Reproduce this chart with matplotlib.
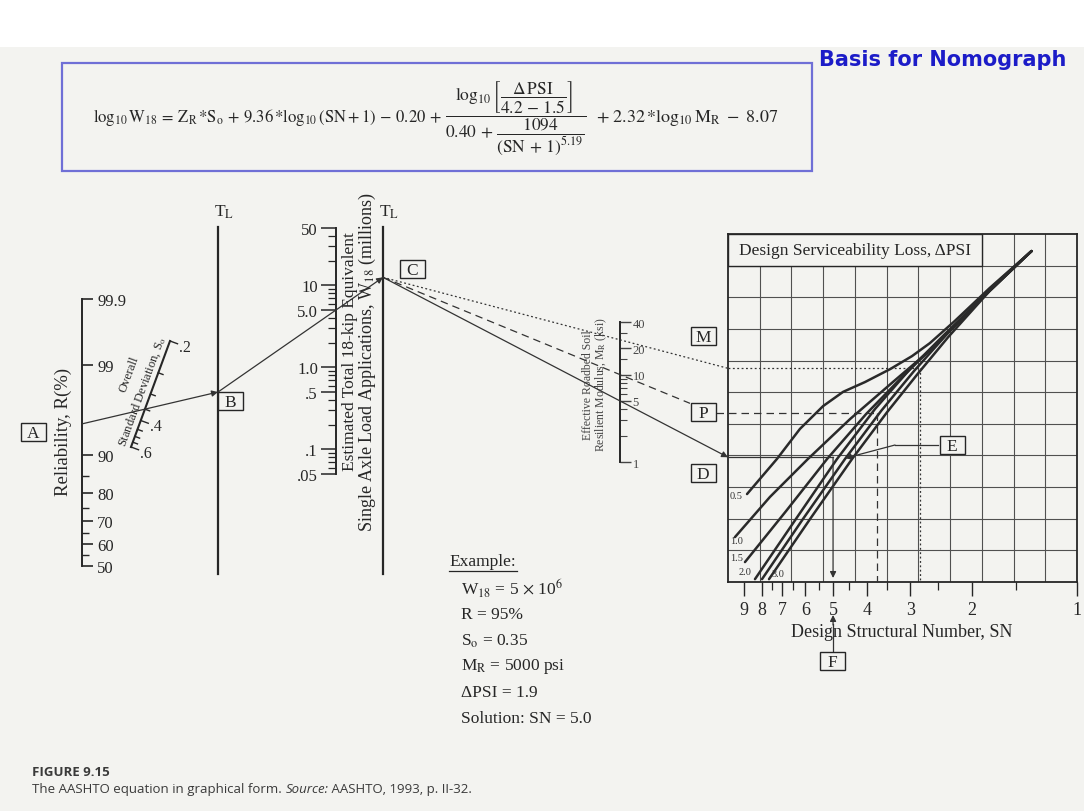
import numpy as np
import matplotlib.pyplot as plt
from matplotlib.patches import Rectangle
from matplotlib.ticker import NullFormatter
from statistics import NormalDist

plt.rcParams['font.family'] = ['Liberation Serif', 'DejaVu Serif']
plt.rcParams['mathtext.fontset'] = 'stix'

# scale values
rel_major = [50, 60, 70, 80, 90, 99, 99.9]
rel_minor = [55, 65, 75, 85]
so_major = [0.2, 0.4, 0.6]
so_minor = [0.25, 0.3, 0.35, 0.45, 0.5, 0.55]
w18_major = [0.05, 0.1, 0.5, 1.0, 5.0, 10, 50]
w18_labels = ['.05', '.1', '.5', '1.0', '5.0', '10', '50']
w18_minor = [0.06, 0.07, 0.08, 0.09, 0.2, 0.3, 0.4, 0.6, 0.7, 0.8, 0.9,
             2, 3, 4, 6, 7, 8, 9, 20, 30, 40]
mr_major = [1, 5, 10, 20, 40]
mr_minor = [2, 3, 4, 6, 7, 8, 9, 15, 30]
sn_major = [9, 8, 7, 6, 5, 4, 3, 2, 1]
sn_minor = [7.5, 6.5, 5.5, 4.5, 3.5, 2.5, 1.5]

# serviceability loss curves: SN against turning-line ordinate (grid units)
psi_levels = ['0.5', '1.0', '1.5', '2.0', '2.5', '3.0']
sn_05 = [8.82, 7.24, 6.22, 5.34, 4.68, 4.05, 3.43, 2.97, 2.64, 2.24, 1.78, 1.35]
y_05 = [2.78, 3.89, 4.84, 5.56, 6.01, 6.32, 6.73, 7.14, 7.55, 8.25, 9.29, 10.46]
sn_10 = [9.55, 7.58, 5.90, 4.47, 3.37, 2.55, 1.78, 1.35]
y_10 = [1.42, 2.69, 3.89, 5.15, 6.32, 7.46, 9.26, 10.46]
sn_15 = [8.94, 6.82, 5.20, 4.02, 3.15, 2.45, 1.78, 1.35]
y_15 = [0.63, 2.24, 3.89, 5.31, 6.51, 7.68, 9.23, 10.46]
sn_20 = [8.37, 6.39, 4.87, 3.79, 3.01, 2.39, 1.78, 1.35]
y_20 = [0.09, 1.99, 3.89, 5.47, 6.73, 7.84, 9.20, 10.46]
sn_25 = [7.99, 6.10, 4.62, 3.64, 2.93, 2.37, 1.78, 1.35]
y_25 = [0.09, 1.99, 3.89, 5.41, 6.67, 7.81, 9.20, 10.46]
sn_30 = [7.63, 5.82, 4.41, 3.50, 2.86, 2.34, 1.78, 1.35]
y_30 = [0.09, 1.99, 3.89, 5.37, 6.58, 7.74, 9.20, 10.46]

# worked example
ex_w18 = 5.0     # millions
ex_r = 95
ex_so = 0.35
ex_mr = 5        # ksi
ex_psi = 1.9
ex_sn = 5.0
# trial moduli drawn dashed and dotted
alt_mr = [10, 25]
alt_sn = [3.74, 2.82]

W, H = 1084, 812
PAGE = '#f3f3f0'
INK = '#262626'


def rect(x0, y0, x1, y1):
    return [x0 / W, 1 - y1 / H, (x1 - x0) / W, (y1 - y0) / H]


fig = plt.figure(figsize=(W / 100, H / 100), dpi=100, facecolor='white')
fig.add_artist(Rectangle((0, 0), 1, 1 - 48 / H, transform=fig.transFigure,
                         facecolor=PAGE, edgecolor='none', zorder=-10))

over = fig.add_axes([0, 0, 1, 1], zorder=5)
over.set_xlim(0, W)
over.set_ylim(H, 0)
over.axis('off')


def px(ax, x, y):
    return over.transData.inverted().transform(ax.transData.transform((x, y)))


def only_spine(ax, side):
    ax.patch.set_alpha(0)
    for s in ax.spines:
        ax.spines[s].set_visible(s == side)
    ax.spines[side].set_linewidth(1.4)
    ax.spines[side].set_color(INK)
    ax.set_xticks([])


# reliability (normal deviate scale)
z = lambda r: NormalDist().inv_cdf(r / 100)
ax_r = fig.add_axes(rect(81, 300, 82, 567))
only_spine(ax_r, 'right')
ax_r.set_ylim(z(50), z(99.9))
ax_r.yaxis.tick_right()
ax_r.set_yticks([z(r) for r in rel_major])
ax_r.set_yticklabels([f'{r:g}' for r in rel_major])
ax_r.set_yticks([z(r) for r in rel_minor], minor=True)
ax_r.tick_params(axis='y', which='major', direction='out', length=8, width=1.2,
                 labelsize=12, pad=3, colors=INK)
ax_r.tick_params(axis='y', which='minor', direction='out', length=5, width=1, colors=INK)

# W18 (log)
ax_w = fig.add_axes(rect(336, 229, 337, 475))
only_spine(ax_w, 'left')
ax_w.set_yscale('log')
ax_w.set_ylim(0.05, 50)
ax_w.set_yticks(w18_major)
ax_w.set_yticklabels(w18_labels)
ax_w.set_yticks(w18_minor, minor=True)
ax_w.yaxis.set_minor_formatter(NullFormatter())
ax_w.tick_params(axis='y', which='major', direction='out', length=11, width=1.1,
                 labelsize=12, pad=2, colors=INK)
ax_w.tick_params(axis='y', which='minor', direction='out', length=6, width=0.9, colors=INK)

# resilient modulus (log)
ax_m = fig.add_axes(rect(619, 323, 620, 463))
only_spine(ax_m, 'right')
ax_m.set_yscale('log')
ax_m.set_ylim(1, 40)
ax_m.yaxis.tick_right()
ax_m.set_yticks(mr_major)
ax_m.set_yticklabels([str(v) for v in mr_major])
ax_m.set_yticks(mr_minor, minor=True)
ax_m.yaxis.set_minor_formatter(NullFormatter())
ax_m.tick_params(axis='y', which='major', direction='out', length=8, width=1,
                 labelsize=9, pad=1, colors='#444444')
ax_m.tick_params(axis='y', which='minor', direction='out', length=5, width=0.8, colors='#444444')

# design chart
ax_c = fig.add_axes(rect(728, 235, 1077, 583))
ax_c.patch.set_alpha(0)
ax_c.set_xscale('log')
ax_c.set_xlim(10, 1)
ax_c.set_ylim(0, 11)
ax_c.set_yticks([])
ax_c.set_xticks(sn_major)
ax_c.set_xticklabels([str(v) for v in sn_major])
ax_c.set_xticks(sn_minor, minor=True)
ax_c.xaxis.set_minor_formatter(NullFormatter())
ax_c.tick_params(axis='x', which='major', direction='out', length=10, width=1,
                 labelsize=13, pad=4, colors=INK)
ax_c.tick_params(axis='x', which='minor', direction='out', length=6, width=0.9, colors=INK)
for s in ax_c.spines.values():
    s.set_linewidth(1.3)
    s.set_color(INK)
for k in range(1, 11):
    ax_c.axvline(10 ** (1 - k / 11), color='#505050', lw=0.8, zorder=1)
    ax_c.axhline(k, color='#505050', lw=0.8, zorder=1)
x8 = 10 ** (1 - 8 / 11)
ax_c.add_patch(Rectangle((x8, 10), 10 - x8, 1, facecolor=PAGE, edgecolor=INK, lw=1, zorder=3))
ax_c.text(10 ** (1 - 4 / 11), 10.5, 'Design Serviceability Loss, ΔPSI', ha='center', va='center',
          fontsize=12.5, color=INK, zorder=4)
curves = [(sn_05, y_05), (sn_10, y_10), (sn_15, y_15), (sn_20, y_20), (sn_25, y_25), (sn_30, y_30)]
for sn, yy in curves:
    ax_c.plot(sn, yy, color='#2a2a2a', lw=1.8, zorder=2, solid_capstyle='round')
label_pos = [(730, 497), (730, 542), (730, 559), (739, 573), None, (771, 575)]
for lab, pos in zip(psi_levels, label_pos):
    if pos:
        over.text(pos[0], pos[1], lab, fontsize=7.5, color='#333333', ha='left', va='center')

over.text(902, 633, 'Design Structural Number, SN', ha='center', va='center', fontsize=13, color=INK)

# T_L turning lines
TL1, TL2 = 218, 383
for x in (TL1, TL2):
    over.plot([x, x], [228, 575], color=INK, lw=1.6)
    over.text(x + 6, 212, r'T$_{\mathrm{L}}$', ha='center', va='center', fontsize=12.5, color=INK)

# overall standard deviation (oblique scale, 1/So linear)
p6 = np.array([131.0, 448.0])
p2 = np.array([170.0, 342.0])
u = (p2 - p6) / np.hypot(*(p2 - p6))
nrm = np.array([-u[1], u[0]])


def so_pos(s):
    t = (1 / s - 1 / 0.6) / (1 / 0.2 - 1 / 0.6)
    return p6 + t * (p2 - p6)


over.plot([p6[0], p2[0]], [p6[1], p2[1]], color=INK, lw=1.5)
for s in so_major + so_minor:
    p = so_pos(s)
    L = 8 if s in so_major else 5
    q = p + L * nrm
    over.plot([p[0], q[0]], [p[1], q[1]], color=INK, lw=1)
for s in so_major:
    q = so_pos(s) + 16 * nrm
    over.text(q[0], q[1], f'{s:g}'.lstrip('0'), ha='center', va='center', fontsize=11.5, color=INK)
ang = np.degrees(np.arctan2(p6[1] - p2[1], p2[0] - p6[0]))
m1 = so_pos(0.3) - 9 * nrm
over.text(m1[0], m1[1], r'Standard Deviation, S$_{\mathrm{o}}$', rotation=ang, rotation_mode='anchor',
          ha='center', va='center', fontsize=9, color=INK)
m2 = so_pos(0.27) - 27 * nrm
over.text(m2[0], m2[1], 'Overall', rotation=ang, rotation_mode='anchor',
          ha='center', va='center', fontsize=9, color=INK)

# axis titles
over.text(63, 432, 'Reliability, R(%)', rotation=90, ha='center', va='center', fontsize=13.5, color=INK)
over.text(350, 352, 'Estimated Total 18-kip Equivalent', rotation=90, ha='center', va='center',
          fontsize=12.5, color=INK)
over.text(367, 362, r'Single Axle Load Applications, W$_{18}$ (millions)', rotation=90,
          ha='center', va='center', fontsize=13, color=INK)
over.text(588, 385, 'Effective Roadbed Soil', rotation=90, ha='center', va='center',
          fontsize=8.5, color='#444444')
over.text(601, 385, r'Resilient Modulus, M$_{\mathrm{R}}$ (ksi)', rotation=90, ha='center',
          va='center', fontsize=8.5, color='#444444')

# construction lines of the example
ln = dict(color='#333333', lw=0.9)
arr = dict(arrowstyle='-|>', color='#333333', lw=0.9, mutation_scale=9, shrinkA=0, shrinkB=0)


def through(p, q, x):
    return p[1] + (q[1] - p[1]) * (x - p[0]) / (q[0] - p[0])


pA = px(ax_r, 1, z(ex_r))
pS = so_pos(ex_so)
pB = np.array([TL1, through(pA, pS, TL1)])
pW = px(ax_w, 0, ex_w18)
pC = np.array([TL2, through(pB, pW, TL2)])
over.annotate('', xy=pB, xytext=pA, arrowprops=arr)
over.annotate('', xy=pC, xytext=pB, arrowprops=arr)

xl = px(ax_c, 10, 0)[0]
yb = px(ax_c, 10, 0)[1]
pM = px(ax_m, 1, ex_mr)
pD = np.array([xl, through(pC, pM, xl)])
over.annotate('', xy=pD, xytext=pC, arrowprops=arr)
xs = px(ax_c, ex_sn, 0)[0]
over.plot([xl, xs], [pD[1], pD[1]], **ln)
over.annotate('', xy=(xs, yb - 4), xytext=(xs, pD[1]), arrowprops=arr)

# dashed trial (P)
pM10 = px(ax_m, 1, alt_mr[0])
xP = 690
yP = through(pC, pM10, xP)
over.plot([pC[0], xP], [pC[1], yP], color='#333333', lw=0.9, ls=(0, (6, 4)))
yPh = yP + 10
xs10 = px(ax_c, alt_sn[0], 0)[0]
over.plot([xP + 26, xs10], [yPh, yPh], color='#333333', lw=0.9, ls=(0, (6, 4)))
over.plot([xs10, xs10], [yPh, yb], color='#333333', lw=0.9, ls=(0, (6, 4)))

# dotted trial (M)
pM25 = px(ax_m, 1, alt_mr[1])
yM = through(pC, pM25, xl)
over.plot([pC[0], xl], [pC[1], yM], color='#333333', lw=0.9, ls=(0, (1.5, 2)))
xs25 = px(ax_c, alt_sn[1], 0)[0]
over.plot([xl, xs25], [yM, yM], color='#333333', lw=0.9, ls=(0, (1.5, 2)))
over.plot([xs25, xs25], [yM, yb], color='#333333', lw=0.9, ls=(0, (1.5, 2)))

# E leader and F pointer
over.plot([938, 895], [446, 446], **ln)
over.annotate('', xy=(xs + 12, pD[1] + 1), xytext=(895, 446), arrowprops=arr)
over.plot([xs, xs], [653, 625], **ln)
over.annotate('', xy=(xs, 616), xytext=(xs, 626), arrowprops=arr)


def tag(cx, cy, s):
    over.add_patch(Rectangle((cx - 12.5, cy - 9), 25, 18, facecolor=PAGE, edgecolor=INK, lw=1, zorder=6))
    over.text(cx, cy + 1, s, ha='center', va='center', fontsize=12.5, color=INK, zorder=7)


tag(33, 433, 'A')
tag(230, 402, 'B')
tag(412, 270, 'C')
tag(703, 337, 'M')
tag(703, yP + 9, 'P')
tag(703, 474, 'D')
tag(952, 446, 'E')
tag(832, 662, 'F')

# example block
over.text(449, 562, 'Example:', fontsize=12.5, va='center', color=INK)
over.plot([449, 517], [572, 572], color=INK, lw=0.9)
ex_lines = [rf'W$_{{18}}$ = {ex_w18:g} $\times$ 10$^{{6}}$',
            f'R = {ex_r}%',
            rf'S$_{{\mathrm{{o}}}}$ = {ex_so:.2f}',
            rf'M$_{{\mathrm{{R}}}}$ = {ex_mr * 1000} psi',
            f'ΔPSI = {ex_psi}',
            f'Solution: SN = {ex_sn:.1f}']
for i, t in enumerate(ex_lines):
    over.text(461, 589 + 26 * i, t, fontsize=12.5, va='center', color=INK)

# equation box
over.add_patch(Rectangle((62, 64), 750, 108, fill=False, edgecolor='#6f6fd6', lw=1.6))
over.text(442, 118, r'$\log_{10}\mathrm{W}_{18}\,=\,\mathrm{Z}_{\mathrm{R}}\,{*}\mathrm{S}_{\mathrm{o}}'
                    r'\,+\,9.36\,{*}\log_{10}(\mathrm{SN}+1)\,-\,0.20\,+$',
          fontsize=12, ha='right', va='center', color=INK)
over.text(516, 118, r'$\dfrac{\log_{10}\left[\dfrac{\Delta\,\mathrm{PSI}}{4.2\,-\,1.5}\right]}'
                    r'{0.40\,+\,\dfrac{1094}{(\mathrm{SN}\,+\,1)^{5.19}}}$',
          fontsize=12.5, ha='center', va='center', color=INK)
over.text(596, 118, r'$+\ 2.32\,{*}\log_{10}\mathrm{M}_{\mathrm{R}}\ -\ 8.07$',
          fontsize=13, va='center', color=INK)

over.text(819, 60, 'Basis for Nomograph', fontsize=15, fontweight='bold', family='DejaVu Sans',
          color='#1c1cc8', va='center')

# caption
over.text(32, 773, 'FIGURE 9.15', family='Open Sans', fontweight='bold', fontsize=9.5,
          color='#3a3a3a', va='center')
c1 = over.text(32, 790, 'The AASHTO equation in graphical form. ', family='Open Sans',
               fontsize=9.5, color='#3a3a3a', va='center')
c2 = over.annotate('Source:', xy=(1, 0), xycoords=c1, va='bottom', family='Open Sans',
                   fontsize=9.5, style='italic', color='#3a3a3a')
over.annotate(' AASHTO, 1993, p. II-32.', xy=(1, 0), xycoords=c2, va='bottom', family='Open Sans',
              fontsize=9.5, color='#3a3a3a')

fig.savefig('out.png', dpi=100, facecolor=fig.get_facecolor())
